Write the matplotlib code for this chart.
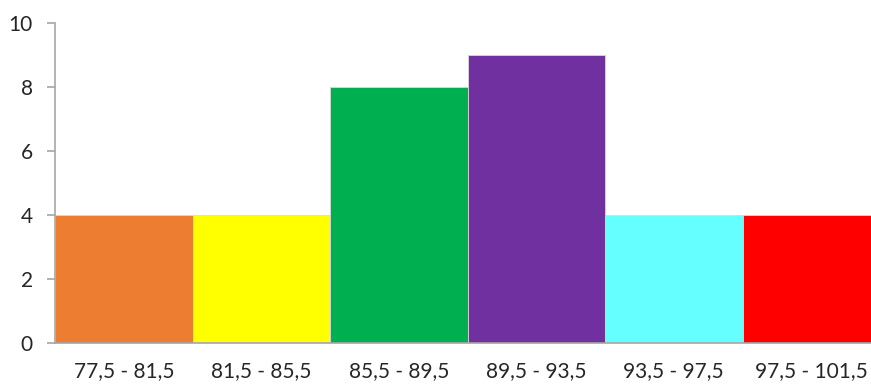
import matplotlib.pyplot as plt

# class intervals and their frequencies
classes = ['77,5 - 81,5', '81,5 - 85,5', '85,5 - 89,5', '89,5 - 93,5', '93,5 - 97,5', '97,5 - 101,5']
counts = [4, 4, 8, 9, 4, 4]
colors = ['#ED7D31', '#FFFF00', '#00B050', '#7030A0', '#66FFFF', '#FF0000']

plt.rcParams['font.family'] = ['Lato', 'DejaVu Sans']

fig = plt.figure(figsize=(8.71, 3.91), dpi=100)
ax = fig.add_axes([55 / 871, 1 - 343 / 391, 825 / 871, 320 / 391])

ax.bar(range(len(classes)), counts, width=1.0, color=colors, edgecolor='#D9D9D9', linewidth=0.6)
ax.set_xlim(-0.5, len(classes) - 0.5)
ax.set_ylim(0, 10)
ax.set_yticks(range(0, 11, 2))
ax.set_xticks(range(len(classes)))
ax.set_xticklabels(classes)

for side in ['top', 'right']:
    ax.spines[side].set_visible(False)
for side in ['left', 'bottom']:
    ax.spines[side].set_color('#A6A6A6')
    ax.spines[side].set_linewidth(1.2)

ax.tick_params(axis='y', length=6, width=1.2, color='#A6A6A6', labelsize=15, pad=10, labelcolor='#262626')
ax.tick_params(axis='x', length=0, labelsize=15, pad=13, labelcolor='#262626')

fig.savefig('out.png', dpi=100)
